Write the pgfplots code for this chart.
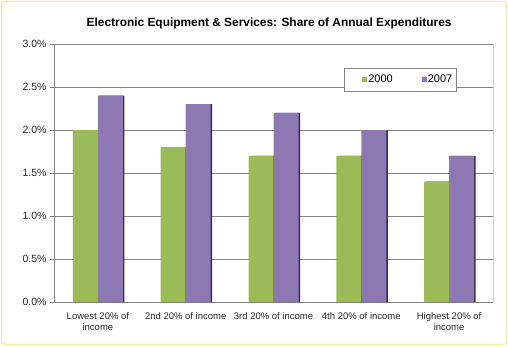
\documentclass[border=0pt]{standalone}
\usepackage{fontspec}
\setmainfont{Liberation Sans}
\usepackage{pgfplots}
\pgfplotsset{compat=1.18}
\definecolor{cgreen}{HTML}{9BBB59}
\definecolor{cpurple}{HTML}{8E78B4}
\definecolor{frame}{HTML}{F2EBA0}
\definecolor{gridc}{HTML}{868686}
\begin{document}
\begin{tikzpicture}[x=1pt,y=1pt]
\useasboundingbox (-54,-44) rectangle (454,302);
\draw[frame, line width=1.2pt, rounded corners=3pt] (-52.5,-42.5) rectangle (452.5,300.5);
\begin{axis}[
  at={(0,0)}, anchor=south west,
  scale only axis, width=439pt, height=258pt,
  ymin=0, ymax=3, ytick={0,0.5,...,3.0},
  xmin=-0.5, xmax=4.5,
  xtick={0,1,2,3,4},
  xticklabels={{Lowest 20\% of\\income},{2nd 20\% of income},{3rd 20\% of income},{4th 20\% of income},{Highest 20\% of\\income}},
  xticklabel style={align=center, font=\fontsize{9.5}{11}\selectfont, text=black!85, yshift=-3pt},
  major tick length=4pt,
  extra x ticks={0.5,1.5,2.5,3.5,4.5},
  extra x tick labels={},
  extra x tick style={major tick style={gridc}, tick align=outside, major tick length=4pt},
  xtick style={draw=none},
  ytick style={gridc, line width=0.8pt},
  tick align=outside,
  yticklabel={\pgfmathprintnumber[fixed,fixed zerofill,precision=1]{\tick}\%},
  yticklabel style={font=\fontsize{10.5}{12}\selectfont, text=black!85},
  /pgf/number format/assume math mode=true,
  ymajorgrids, grid style={gridc, line width=0.8pt},
  axis x line*=bottom, axis y line*=left,
  axis line style={gridc, line width=0.8pt, -},
  ybar=0pt, bar width=25pt,
  title={\bfseries Electronic Equipment \& Services: Share of Annual Expenditures},
  title style={font=\fontsize{11.9}{14}\selectfont, at={(0.49,1)}, yshift=6pt},
  legend columns=2,
  legend style={at={(0.661,0.907)}, anchor=north west, draw=gridc, fill=white, font=\fontsize{11}{13}\selectfont,
    nodes={inner xsep=1pt},
    /tikz/every even column/.append style={column sep=13pt}, inner xsep=3pt, inner ysep=5pt},
  legend image code/.code={\path (0pt,0pt); \fill[#1] (15pt,-2.5pt) rectangle (20pt,2.5pt);},
  clip=false,
]
\addplot[fill=black!80, draw=none, bar shift=-11pt, forget plot] coordinates {(0,2.0) (1,1.8) (2,1.7) (3,1.7) (4,1.4)};
\addplot[fill=black!80, draw=none, bar shift=14pt, forget plot] coordinates {(0,2.4) (1,2.3) (2,2.2) (3,2.0) (4,1.7)};
\addplot[fill=cgreen, draw=none, bar shift=-12.5pt] coordinates {(0,2.0) (1,1.8) (2,1.7) (3,1.7) (4,1.4)};
\addplot[fill=cpurple, draw=none, bar shift=12.5pt] coordinates {(0,2.4) (1,2.3) (2,2.2) (3,2.0) (4,1.7)};
\legend{2000,2007}
\draw[black!20, line width=0.8pt] (rel axis cs:1,0) -- (rel axis cs:1,1);
\end{axis}
\end{tikzpicture}
\end{document}
